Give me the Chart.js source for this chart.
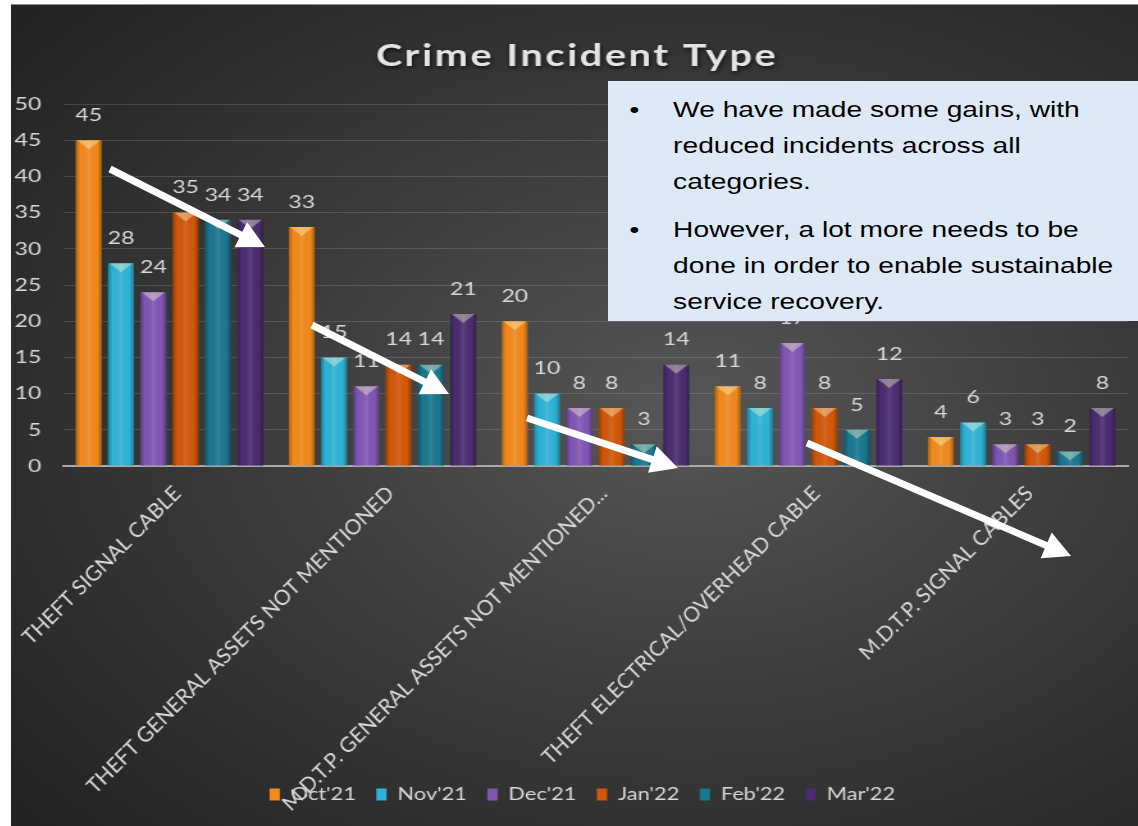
<!DOCTYPE html>
<html>
<head>
<meta charset="utf-8">
<script src="https://cdn.jsdelivr.net/npm/chart.js@4.4.1/dist/chart.umd.min.js"></script>
<style>
  html, body { margin: 0; padding: 0; background: #ffffff; width: 1138px; height: 826px; overflow: hidden; }
  /* the slide graphic is laid out at 880px and widened to fill 1127px */
  #wrap {
    position: absolute; left: 11px; top: 4px; width: 880px; height: 822px;
    transform-origin: 0 0; transform: scaleX(1.2807);
    background: radial-gradient(ellipse 78% 72% at 60% 50%, #575757 0%, #3d3d3d 45%, #232323 100%);
    border-top: 1px solid #8c8c8c; box-sizing: border-box;
  }
  #chart { position: absolute; left: 0; top: 0; }
  #note {
    position: absolute; left: 466px; top: 76px; width: 414px; height: 240px;
    background: #dde9f6; color: #000;
    font-family: "Liberation Sans", Arial, sans-serif; font-size: 22px; line-height: 36px;
    box-sizing: border-box; padding-top: 11px;
  }
  #note .item { position: relative; padding-left: 51px; margin-bottom: 12px; white-space: nowrap; }
  #note .item::before { content: "\2022"; position: absolute; left: 17px; top: 0; }
  #arrows { position: absolute; left: 0; top: 0; pointer-events: none; }
</style>
</head>
<body>
<div id="wrap">
  <canvas id="chart" width="880" height="822"></canvas>
  <div id="note">
    <div class="item">We have made some gains, with<br>reduced incidents across all<br>categories.</div>
    <div class="item">However, a lot more needs to be<br>done in order to enable sustainable<br>service recovery.</div>
  </div>
</div>
<svg id="arrows" width="1138" height="826"></svg>
<script>
// ---- data ----
const chartTitle = "Crime Incident Type";
const categories = [
  "THEFT SIGNAL CABLE",
  "THEFT GENERAL ASSETS NOT MENTIONED",
  "M.D.T.P. GENERAL ASSETS NOT MENTIONED...",
  "THEFT ELECTRICAL/OVERHEAD CABLE",
  "M.D.T.P. SIGNAL CABLES"
];
const seriesNames = ["Oct'21", "Nov'21", "Dec'21", "Jan'22", "Feb'22", "Mar'22"];
const oct21 = [45, 33, 20, 11, 4];
const nov21 = [28, 15, 10, 8, 6];
const dec21 = [24, 11, 8, 17, 3];
const jan22 = [35, 14, 8, 8, 3];
const feb22 = [34, 14, 3, 5, 2];
const mar22 = [34, 21, 14, 12, 8];
const seriesValues = [oct21, nov21, dec21, jan22, feb22, mar22];
const yMin = 0, yMax = 50, yStep = 5;

// ---- styling ----
const seriesColors = ["#f28a1c", "#2fb3d8", "#8057b4", "#d2580a", "#1b7890", "#4a2d70"];
const textColor = "#d9d9d9";
const baseFont = "Lato, 'DejaVu Sans', sans-serif";
const widen = 1.2807;   // horizontal widening applied to #wrap

// white trend arrows drawn over the chart: [x1, y1, x2, y2] in page pixels
const trendArrows = [
  [110, 169, 265, 247],
  [312, 325, 449, 394],
  [527, 418, 678, 468],
  [807, 443, 1071, 556]
];

// bevelled "pyramid" tops and side shading on every bar
const bevelPlugin = {
  id: "bevel",
  afterDatasetsDraw(chart) {
    const ctx = chart.ctx;
    chart.data.datasets.forEach((ds, di) => {
      const meta = chart.getDatasetMeta(di);
      meta.data.forEach(bar => {
        const { x, y, base, width } = bar.getProps(["x", "y", "base", "width"], true);
        const left = x - width / 2, right = x + width / 2;
        const h = base - y;
        if (h <= 0) return;
        ctx.save();
        const g = ctx.createLinearGradient(left, 0, right, 0);
        g.addColorStop(0, "rgba(0,0,0,0.28)");
        g.addColorStop(0.18, "rgba(0,0,0,0.0)");
        g.addColorStop(0.5, "rgba(255,255,255,0.10)");
        g.addColorStop(0.82, "rgba(0,0,0,0.0)");
        g.addColorStop(1, "rgba(0,0,0,0.32)");
        ctx.fillStyle = g;
        ctx.fillRect(left, y, width, h);
        const b = Math.min(9, h);
        ctx.beginPath();
        ctx.moveTo(left + 1, y);
        ctx.lineTo(right - 1, y);
        ctx.lineTo(x, y + b);
        ctx.closePath();
        ctx.fillStyle = "rgba(255,255,210,0.38)";
        ctx.fill();
        ctx.restore();
      });
    });
  }
};

// value written above each bar
const valueLabelPlugin = {
  id: "valueLabels",
  afterDatasetsDraw(chart) {
    const ctx = chart.ctx;
    ctx.save();
    ctx.font = "18px " + baseFont;
    ctx.fillStyle = textColor;
    ctx.textAlign = "center";
    ctx.textBaseline = "middle";
    chart.data.datasets.forEach((ds, di) => {
      const meta = chart.getDatasetMeta(di);
      meta.data.forEach((bar, i) => {
        ctx.fillText(String(ds.data[i]), bar.x, bar.y - 25);
      });
    });
    ctx.restore();
  }
};

// category names at a true 45° on screen (undoing the horizontal widening)
const slantedLabelPlugin = {
  id: "slantedLabels",
  afterDraw(chart) {
    const ctx = chart.ctx;
    const scale = chart.scales.x;
    ctx.save();
    ctx.font = "21px " + baseFont;
    ctx.fillStyle = textColor;
    ctx.textAlign = "right";
    ctx.textBaseline = "middle";
    scale.ticks.forEach((tick, i) => {
      const px = scale.getPixelForTick(i);
      ctx.save();
      ctx.translate(px + 8 / widen, scale.top + 24);
      ctx.scale(1 / widen, 1);
      ctx.rotate(-Math.PI / 4);
      ctx.fillText(scale.getLabelForValue(tick.value), 0, 0);
      ctx.restore();
    });
    ctx.restore();
  }
};

// nudge the legend row a little to the right of centre
const legendNudgePlugin = {
  id: "legendNudge",
  afterLayout(chart) {
    if (chart.legend) {
      chart.legend.left += 10;
      chart.legend.right += 10;
    }
  }
};

// spaced-out title with a soft shadow
const titlePlugin = {
  id: "spacedTitle",
  afterDraw(chart) {
    const ctx = chart.ctx;
    ctx.save();
    ctx.font = "bold 31px " + baseFont;
    ctx.letterSpacing = "2px";
    ctx.fillStyle = "#e4e4e4";
    ctx.textAlign = "center";
    ctx.textBaseline = "middle";
    ctx.shadowColor = "rgba(0,0,0,0.7)";
    ctx.shadowBlur = 4;
    ctx.shadowOffsetX = 1;
    ctx.shadowOffsetY = 2;
    ctx.fillText(chartTitle, chart.width / 2 + 2, 51);
    ctx.restore();
  }
};

const datasets = seriesNames.map((name, i) => ({
  label: name,
  data: seriesValues[i],
  backgroundColor: seriesColors[i],
  borderWidth: 0,
  categoryPercentage: 0.91,
  barPercentage: 0.8
}));

new Chart(document.getElementById("chart"), {
  type: "bar",
  data: { labels: categories, datasets },
  options: {
    responsive: false,
    animation: false,
    layout: { padding: { top: 99, right: 7.8, left: 0, bottom: 14 } },
    plugins: {
      title: { display: false },
      tooltip: { enabled: false },
      legend: {
        position: "bottom",
        labels: {
          color: textColor,
          font: { family: baseFont, size: 17 },
          boxWidth: 8,
          boxHeight: 12,
          padding: 16
        }
      }
    },
    scales: {
      y: {
        min: yMin, max: yMax,
        ticks: { stepSize: yStep, color: textColor, font: { family: baseFont, size: 18 }, padding: 17 },
        grid: { color: "rgba(255,255,255,0.14)", drawTicks: false },
        border: { display: false },
        afterFit(scale) { scale.width = 40.6; }
      },
      x: {
        ticks: { display: false },
        grid: { display: false },
        border: { color: "#a9a9a9", width: 2 },
        afterFit(scale) { scale.height = 304; }
      }
    }
  },
  plugins: [bevelPlugin, valueLabelPlugin, slantedLabelPlugin, legendNudgePlugin, titlePlugin]
});

// trend arrows
(function drawArrows() {
  const svg = document.getElementById("arrows");
  const NS = "http://www.w3.org/2000/svg";
  const headLen = 27, headHalf = 14, shaft = 7;
  trendArrows.forEach(([x1, y1, x2, y2]) => {
    const dx = x2 - x1, dy = y2 - y1, len = Math.hypot(dx, dy);
    const ux = dx / len, uy = dy / len, px = -uy, py = ux;
    const bx = x2 - ux * headLen, by = y2 - uy * headLen;
    const line = document.createElementNS(NS, "line");
    line.setAttribute("x1", x1); line.setAttribute("y1", y1);
    line.setAttribute("x2", bx + ux * 2); line.setAttribute("y2", by + uy * 2);
    line.setAttribute("stroke", "#ffffff"); line.setAttribute("stroke-width", shaft);
    svg.appendChild(line);
    const head = document.createElementNS(NS, "polygon");
    head.setAttribute("points",
      `${x2},${y2} ${bx + px * headHalf},${by + py * headHalf} ${bx - px * headHalf},${by - py * headHalf}`);
    head.setAttribute("fill", "#ffffff");
    svg.appendChild(head);
  });
})();
</script>
</body>
</html>
